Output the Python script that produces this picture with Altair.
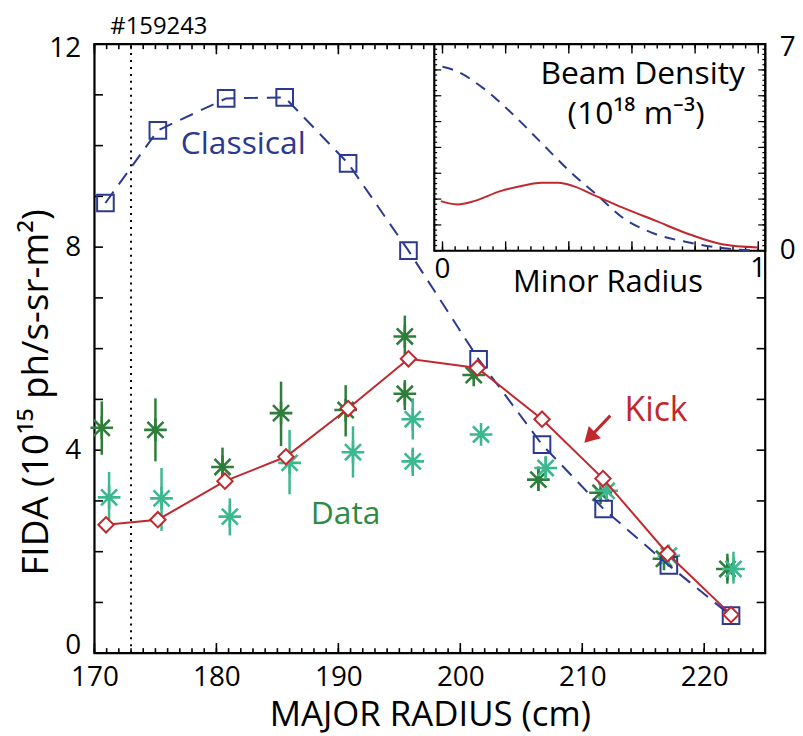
import altair as alt
import pandas as pd

# ---------------- data ----------------
classical_R = [170.9, 175.2, 180.8, 185.6, 190.8, 195.75, 201.5, 206.7, 211.75, 217.1, 222.2]
classical_F = [8.87, 10.30, 10.93, 10.95, 9.65, 7.93, 5.79, 4.11, 2.84, 1.73, 0.74]

kick_R = [170.95, 175.2, 180.7, 185.7, 190.8, 195.75, 201.4, 206.7, 211.7, 217.0, 222.2]
kick_F = [2.53, 2.63, 3.39, 3.87, 4.82, 5.80, 5.62, 4.61, 3.44, 1.96, 0.76]

data1_R = [170.6, 175.0, 180.5, 185.3, 190.6, 195.45, 195.45, 201.1, 206.4, 211.5, 216.7, 221.9]
data1_F = [4.44, 4.40, 3.67, 4.73, 4.79, 6.24, 5.11, 5.48, 3.42, 3.16, 1.86, 1.66]
data1_lo = [3.91, 3.78, 3.42, 4.08, 4.27, 5.77, 4.79, 5.38, 3.20, 3.08, 1.78, 1.37]
data1_hi = [4.96, 5.02, 4.05, 5.35, 5.28, 6.65, 5.38, 5.58, 3.68, 3.26, 1.95, 1.96]

data2_R = [171.2, 175.5, 181.1, 186.0, 191.2, 196.1, 196.1, 201.7, 207.0, 212.0, 217.1, 222.4]
data2_F = [3.07, 3.05, 2.69, 3.75, 3.96, 4.61, 3.78, 4.31, 3.65, 3.20, 1.92, 1.66]
data2_lo = [2.58, 2.41, 2.32, 3.13, 3.46, 4.21, 3.49, 4.25, 3.46, 3.10, 1.82, 1.37]
data2_hi = [3.57, 3.65, 3.05, 4.40, 4.47, 5.02, 4.05, 4.37, 3.88, 3.30, 2.02, 2.00]

# inset: beam density vs minor radius
inset_cl_r = [0.0, 0.036, 0.13, 0.225, 0.319, 0.403, 0.487, 0.571, 0.676, 0.781, 0.886, 1.0]
inset_cl_n = [6.23, 6.12, 5.50, 4.60, 3.59, 2.69, 1.91, 1.12, 0.56, 0.28, 0.09, 0.0]
inset_kick_r = [-0.005, 0.047, 0.10, 0.183, 0.257, 0.314, 0.367, 0.414, 0.487, 0.571, 0.676, 0.781, 0.886, 1.0]
inset_kick_n = [1.68, 1.57, 1.68, 2.02, 2.21, 2.30, 2.30, 2.19, 1.85, 1.46, 1.01, 0.56, 0.22, 0.11]

shot_R = [173.0]
x_labels = [170, 180, 190, 200, 210, 220]
y_labels = [0, 4, 8, 12]
x_title = "MAJOR RADIUS (cm)"
y_title = "FIDA (10¹⁵ ph/s-sr-m²)"
shot_label = "#159243"

# label annotations (text, R, F)
main_labels = [("Classical", 182.2, 10.04), ("Data", 190.6, 2.74), ("Kick", 216.05, 4.77)]
arrow_R = [212.3, 210.6]
arrow_F = [4.68, 4.25]
inset_labels = [("Beam Density", 0.634, 5.99), ("(10¹⁸ m⁻³)", 0.613, 4.62), ("Minor Radius", 0.524, -1.11)]
inset_xlabels = [("0", 0.0, -0.67), ("1", 1.0, -0.62)]
inset_ylabels = [("0", 1.068, 0.0), ("7", 1.068, 6.85)]

# ---------------- style ----------------
FONT = "Open Sans"
BLUE = "#2b3990"
RED = "#c1272d"
DGREEN = "#2e7d3a"
TEAL = "#3cb88e"
LGREEN = "#2e8b45"
W, H = 675, 613
ASTER = "M0,-1L0,1M-1,0L1,0M-0.71,-0.71L0.71,0.71M-0.71,0.71L0.71,-0.71"

xsc = alt.Scale(domain=[170, 225], nice=False, zero=False)
ysc = alt.Scale(domain=[0, 12], nice=False, zero=False)
isx = alt.Scale(domain=[-0.026, 1.022], range=[342, 675], nice=False, zero=False)
isy = alt.Scale(domain=[0, 7], range=[208, 0], nice=False, zero=False)

axis_x = alt.Axis(values=x_labels, ticks=False, tickSize=0, domain=False, grid=False,
                  labelFont=FONT, labelFontSize=28, labelColor="black", labelPadding=10,
                  labelFlush=False,
                  title=x_title, titleFont=FONT, titleFontSize=35, titleFontWeight="normal",
                  titleColor="black", titlePadding=7)
axis_y = alt.Axis(values=y_labels, ticks=False, tickSize=0, domain=False, grid=False,
                  labelFont=FONT, labelFontSize=28, labelColor="black", labelPadding=14,
                  labelFlush=False,
                  labelOffset={"condition": [{"test": "datum.value == 0", "value": -8},
                                             {"test": "datum.value == 12", "value": 5}],
                               "value": 0},
                  title=y_title, titleFont=FONT, titleFontSize=37, titleFontWeight="normal",
                  titleColor="black", titleX=-58, titleY=350, titleAngle=270,
                  titleAlign="center", titleBaseline="middle")


def X(f):
    return alt.X(f, type="quantitative", scale=xsc, axis=axis_x)


def Y(f):
    return alt.Y(f, type="quantitative", scale=ysc, axis=axis_y)


def XD(v):
    return alt.XDatum(v, type="quantitative", scale=xsc, axis=axis_x)


def YD(v):
    return alt.YDatum(v, type="quantitative", scale=ysc, axis=axis_y)


def IX(f):
    return alt.X(f, type="quantitative", scale=isx, axis=None)


def IY(f):
    return alt.Y(f, type="quantitative", scale=isy, axis=None)


def IXD(v):
    return alt.XDatum(v, type="quantitative", scale=isx, axis=None)


def IYD(v):
    return alt.YDatum(v, type="quantitative", scale=isy, axis=None)


one = pd.DataFrame({"a": [0]})

df_cl = pd.DataFrame({"R": classical_R, "F": classical_F})
df_k = pd.DataFrame({"R": kick_R, "F": kick_F})
df_d1 = pd.DataFrame({"R": data1_R, "F": data1_F, "lo": data1_lo, "hi": data1_hi})
df_d2 = pd.DataFrame({"R": data2_R, "F": data2_F, "lo": data2_lo, "hi": data2_hi})

layers = []

# frame
layers.append(alt.Chart(one).mark_rect(fillOpacity=0, stroke="black", strokeWidth=2.2).encode(
    x=XD(170), x2=alt.X2Datum(225), y=YD(0), y2=alt.Y2Datum(12)))

# main ticks (inward)
xt_minor = pd.DataFrame({"t": list(range(170, 226))})
xt_major = pd.DataFrame({"t": list(range(170, 221, 10))})
yt = pd.DataFrame({"t": list(range(0, 13))})
for df_t, ln in ((xt_minor, 0.1), (xt_major, 0.2)):
    layers.append(alt.Chart(df_t).mark_rule(color="black", strokeWidth=1.6).encode(
        x=X("t:Q"), y=YD(0), y2=alt.Y2Datum(ln)))
    layers.append(alt.Chart(df_t).mark_rule(color="black", strokeWidth=1.6).encode(
        x=X("t:Q"), y=YD(12), y2=alt.Y2Datum(12 - ln)))
layers.append(alt.Chart(yt).mark_rule(color="black", strokeWidth=1.6).encode(
    y=Y("t:Q"), x=XD(170), x2=alt.X2Datum(170.7)))
layers.append(alt.Chart(yt).mark_rule(color="black", strokeWidth=1.6).encode(
    y=Y("t:Q"), x=XD(225), x2=alt.X2Datum(224.3)))

# dotted line
layers.append(alt.Chart(pd.DataFrame({"R": shot_R})).mark_rule(
    color="black", strokeWidth=2, strokeDash=[2, 5]).encode(
    x=X("R:Q"), y=YD(0), y2=alt.Y2Datum(12)))

# data with error bars
for df_d, col in ((df_d1, DGREEN), (df_d2, TEAL)):
    layers.append(alt.Chart(df_d).mark_rule(color=col, strokeWidth=2.5).encode(
        x=X("R:Q"), y=Y("lo:Q"), y2="hi:Q"))
    layers.append(alt.Chart(df_d).mark_point(shape=ASTER, size=520, color=col, strokeWidth=2.6,
                                             filled=False, opacity=1).encode(
        x=X("R:Q"), y=Y("F:Q")))

# classical
layers.append(alt.Chart(df_cl).mark_line(color=BLUE, strokeWidth=2, strokeDash=[14, 9]).encode(
    x=X("R:Q"), y=Y("F:Q")))
layers.append(alt.Chart(df_cl).mark_point(shape="square", size=280, color=BLUE, strokeWidth=2,
                                          filled=False, opacity=1).encode(x=X("R:Q"), y=Y("F:Q")))
# kick
layers.append(alt.Chart(df_k).mark_line(color=RED, strokeWidth=2).encode(x=X("R:Q"), y=Y("F:Q")))
layers.append(alt.Chart(df_k).mark_point(shape="diamond", size=240, color=RED, strokeWidth=2,
                                         filled=True, fill="white", opacity=1).encode(
    x=X("R:Q"), y=Y("F:Q")))
layers.append(alt.Chart(df_k).mark_point(shape="diamond", size=240, color=RED, strokeWidth=2,
                                         filled=False, opacity=1).encode(x=X("R:Q"), y=Y("F:Q")))

# labels
lab_cols = {"Classical": BLUE, "Data": LGREEN, "Kick": RED}
lab_size = {"Classical": 32, "Data": 32, "Kick": 34}
for txt, r, f in main_labels:
    layers.append(alt.Chart(one).mark_text(text=txt, font=FONT, fontSize=lab_size[txt],
                                           color=lab_cols[txt],
                                           align="center", baseline="middle").encode(
        x=XD(r), y=YD(f)))
df_arrow = pd.DataFrame({"R": arrow_R, "F": arrow_F})
layers.append(alt.Chart(df_arrow).mark_line(color=RED, strokeWidth=3).encode(x=X("R:Q"), y=Y("F:Q")))
layers.append(alt.Chart(df_arrow.tail(1)).mark_point(shape="triangle-up", size=300, angle=225,
                                                      filled=True, color=RED, opacity=1).encode(
    x=X("R:Q"), y=Y("F:Q")))
layers.append(alt.Chart(one).mark_text(text=shot_label, font=FONT, fontSize=24, color="black",
                                       align="left", baseline="middle").encode(
    x=alt.value(16), y=alt.value(-17)))

main = alt.layer(*layers)

# ---------------- inset ----------------
il = []
il.append(alt.Chart(one).mark_rect(fill="white", stroke="black", strokeWidth=2.2).encode(
    x=IXD(-0.026), x2=alt.X2Datum(1.022), y=IYD(0), y2=alt.Y2Datum(7)))
ixt_minor = pd.DataFrame({"t": [i * 0.04 for i in range(0, 26)]})
ixt_major = pd.DataFrame({"t": [i * 0.2 for i in range(0, 6)]})
iyt_minor = pd.DataFrame({"t": [i * 7 / 40 for i in range(0, 41)]})
iyt_major = pd.DataFrame({"t": [i * 7 / 8 for i in range(0, 9)]})
for df_t, ln in ((ixt_minor, 0.15), (ixt_major, 0.32)):
    il.append(alt.Chart(df_t).mark_rule(color="black", strokeWidth=1.4).encode(
        x=IX("t:Q"), y=IYD(0), y2=alt.Y2Datum(ln)))
    il.append(alt.Chart(df_t).mark_rule(color="black", strokeWidth=1.4).encode(
        x=IX("t:Q"), y=IYD(7), y2=alt.Y2Datum(7 - ln)))
for df_t, ln in ((iyt_minor, 0.009), (iyt_major, 0.022)):
    il.append(alt.Chart(df_t).mark_rule(color="black", strokeWidth=1.2).encode(
        y=IY("t:Q"), x=IXD(-0.026), x2=alt.X2Datum(-0.026 + ln)))
    il.append(alt.Chart(df_t).mark_rule(color="black", strokeWidth=1.2).encode(
        y=IY("t:Q"), x=IXD(1.022), x2=alt.X2Datum(1.022 - ln)))

il.append(alt.Chart(pd.DataFrame({"r": inset_cl_r, "n": inset_cl_n})).mark_line(
    color=BLUE, strokeWidth=2, strokeDash=[11, 8], interpolate="monotone").encode(x=IX("r:Q"), y=IY("n:Q")))
il.append(alt.Chart(pd.DataFrame({"r": inset_kick_r, "n": inset_kick_n})).mark_line(
    color=RED, strokeWidth=2, interpolate="monotone").encode(x=IX("r:Q"), y=IY("n:Q")))

inset_size = {"Beam Density": 32, "(10¹⁸ m⁻³)": 32, "Minor Radius": 31}
for txt, r, n in inset_labels:
    il.append(alt.Chart(one).mark_text(text=txt, font=FONT, fontSize=inset_size[txt], color="black",
                                       align="center", baseline="middle").encode(
        x=IXD(r), y=IYD(n)))
for txt, r, n in inset_xlabels:
    il.append(alt.Chart(one).mark_text(text=txt, font=FONT, fontSize=28, color="black",
                                       align="center", baseline="middle").encode(
        x=IXD(r), y=IYD(n)))
for txt, r, n in inset_ylabels:
    il.append(alt.Chart(one).mark_text(text=txt, font=FONT, fontSize=28, color="black",
                                       align="left", baseline="middle").encode(
        x=IXD(r), y=IYD(n)))

inset = alt.layer(*il)

chart = alt.layer(main, inset).resolve_scale(x="independent", y="independent").properties(
    width=W, height=H,
    padding={"left": 87, "top": 34, "right": 30, "bottom": 80},
    autosize=alt.AutoSizeParams(type="none"),
).configure_view(stroke=None).configure(background="white")

chart.save("out.html", embed_options={"renderer": "svg", "actions": False})
